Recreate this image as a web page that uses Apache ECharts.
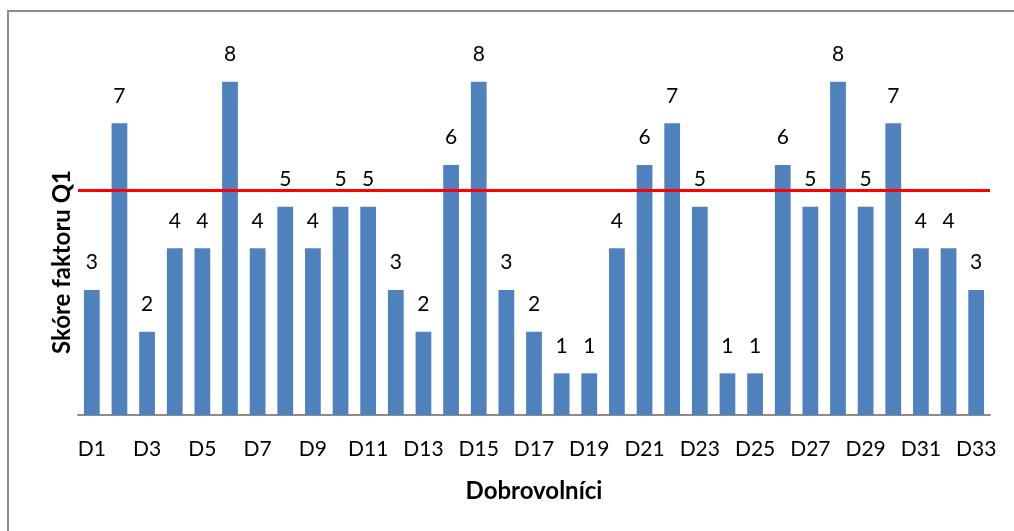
<!DOCTYPE html>
<html>
<head>
<meta charset="utf-8">
<script src="https://cdn.jsdelivr.net/npm/echarts@6/dist/echarts.min.js"></script>
<style>
  html, body { margin: 0; padding: 0; background: #fff; }
  #chart { width: 1014px; height: 531px; }
</style>
</head>
<body>
<div id="chart"></div>
<script>
// Volunteers D1..D33 and their Q1 factor scores
const categories = Array.from({ length: 33 }, (_, i) => 'D' + (i + 1));
const scores = [3, 7, 2, 4, 4, 8, 4, 5, 4, 5, 5, 3, 2, 6, 8, 3, 2, 1, 1, 4, 6, 7, 5, 1, 1, 6, 5, 8, 5, 7, 4, 4, 3];
// Reference threshold drawn as the red horizontal line
const threshold = 5.4;

const FONT = 'Lato, "Open Sans", sans-serif';

const chart = echarts.init(document.getElementById('chart'));
chart.setOption({
  animation: false,
  backgroundColor: '#ffffff',
  grid: { left: 78, right: 24, top: 40, bottom: 116 },
  graphic: [
    {
      type: 'rect',
      shape: { x: 8, y: 11, width: 1030, height: 560 },
      style: { fill: 'none', stroke: '#8c8c8c', lineWidth: 2 },
      silent: true
    },
    {
      type: 'text',
      x: 62, y: 262,
      rotation: Math.PI / 2,
      style: {
        text: 'Skóre faktoru Q1',
        font: 'bold 24px ' + FONT,
        fill: '#000',
        align: 'center',
        verticalAlign: 'middle'
      }
    },
    {
      type: 'text',
      x: 534, y: 491,
      style: {
        text: 'Dobrovolníci',
        font: 'bold 24px ' + FONT,
        fill: '#000',
        align: 'center',
        verticalAlign: 'middle'
      }
    }
  ],
  xAxis: {
    type: 'category',
    data: categories,
    axisLine: { lineStyle: { color: '#8c8c8c', width: 2 } },
    axisTick: { show: false },
    axisLabel: {
      interval: 1,
      color: '#000',
      fontFamily: FONT,
      fontSize: 21,
      margin: 24
    }
  },
  yAxis: {
    type: 'value',
    min: 0,
    max: 9,
    interval: 1,
    axisLine: { show: false },
    axisTick: { show: false },
    axisLabel: { show: false },
    splitLine: { show: false }
  },
  series: [
    {
      type: 'bar',
      data: scores,
      barCategoryGap: '43%',
      itemStyle: { color: '#4f81bd' },
      label: {
        show: true,
        position: 'top',
        distance: 17,
        color: '#000',
        fontFamily: FONT,
        fontSize: 21
      },
      markLine: {
        symbol: 'none',
        silent: true,
        label: { show: false },
        lineStyle: { color: '#ff0000', width: 3, type: 'solid' },
        data: [{ yAxis: threshold }]
      }
    }
  ]
});
</script>
</body>
</html>
